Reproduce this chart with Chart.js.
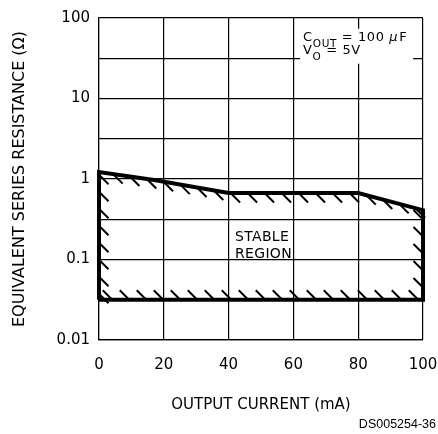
<!DOCTYPE html>
<html>
<head>
<meta charset="utf-8">
<script src="https://cdn.jsdelivr.net/npm/chart.js@4.4.1/dist/chart.umd.min.js"></script>
<style>
	body { margin: 0; background: #fff; }
	canvas { display: block; }
</style>
</head>
<body>
<canvas id="esrChart" width="438" height="434"></canvas>
<script>
/* Data. */
const upperCurrent = [0, 17, 40, 80, 100];          // mA
const upperEsr = [1.22, 0.97, 0.67, 0.67, 0.41];    // ohm
const minEsr = 0.0316;                              // lower edge of stable region

const xTickValues = [0, 20, 40, 60, 80, 100];
const yTickValues = [0.01, 0.1, 1, 10, 100];
const yTickLabels = ['0.01', '0.1', '1', '10', '100'];
const yGridValues = [0.01, 0.0316, 0.1, 0.316, 1, 3.16, 10, 31.6, 100];

const noteLines = [['C', 'OUT', ' = 100 ', 'μ', 'F'], ['V', 'O', ' = 5V', '', '']];
const regionLabel = ['STABLE', 'REGION'];

/* Closed outline of the stable region. */
function buildRegion() {
	const pts = [{ x: upperCurrent[0], y: minEsr }];
	upperCurrent.forEach((c, i) => pts.push({ x: c, y: upperEsr[i] }));
	pts.push({ x: upperCurrent[upperCurrent.length - 1], y: minEsr });
	pts.push({ x: upperCurrent[0], y: minEsr });
	return pts;
}

const black = '#000';
const tickFont = { family: "'DejaVu Sans', sans-serif", size: 15 };

// Hatch marks along the inside of the region outline
const hatchPlugin = {
	id: 'hatch',
	afterDatasetsDraw(chart) {
		const meta = chart.getDatasetMeta(0);
		const p = meta.data.map((e) => ({ x: e.x, y: e.y }));
		let area = 0;
		for (let i = 0; i < p.length - 1; i++) area += p[i].x * p[i + 1].y - p[i + 1].x * p[i].y;
		const sign = area > 0 ? 1 : -1;
		const spacing = 17, len = 9.5;
		const ctx = chart.ctx;
		ctx.save();
		ctx.strokeStyle = black;
		ctx.lineWidth = 2;
		ctx.lineCap = 'butt';
		let next = 6;
		let walked = 0;
		for (let i = 0; i < p.length - 1; i++) {
			const ex = p[i + 1].x - p[i].x, ey = p[i + 1].y - p[i].y;
			const L = Math.hypot(ex, ey);
			if (L === 0) continue;
			const nx = (-ey / L) * sign, ny = (ex / L) * sign;
			const t = nx + ny > 0 ? len : -len;
			while (next <= walked + L) {
				const f = (next - walked) / L;
				const sx = p[i].x + ex * f, sy = p[i].y + ey * f;
				ctx.beginPath();
				ctx.moveTo(sx, sy);
				ctx.lineTo(sx + t, sy + t);
				ctx.stroke();
				next += spacing;
			}
			walked += L;
		}
		ctx.restore();
	},
};

// Condition note, region label and drawing number
const textPlugin = {
	id: 'texts',
	afterDraw(chart) {
		const ctx = chart.ctx;
		const xs = chart.scales.x, ys = chart.scales.y;
		ctx.save();

		// note box, masks grid behind it
		const nx = xs.getPixelForValue(63);
		const ny = ys.getPixelForValue(62);
		ctx.fillStyle = '#fff';
		ctx.fillRect(nx - 3, ny - 6, 113, 35);
		ctx.fillStyle = black;
		ctx.textBaseline = 'alphabetic';
		ctx.textAlign = 'left';
		ctx.letterSpacing = '0.6px';
		const mainFont = "13px 'DejaVu Sans', sans-serif";
		noteLines.forEach((parts, li) => {
			let x = nx;
			const base = ny + 6 + li * 13;
			ctx.font = mainFont;
			ctx.fillText(parts[0], x, base);
			x += ctx.measureText(parts[0]).width;
			ctx.font = "10.5px 'DejaVu Sans', sans-serif";
			ctx.fillText(parts[1], x, base + 6);
			x += ctx.measureText(parts[1]).width;
			ctx.font = mainFont;
			ctx.fillText(parts[2], x, base);
			x += ctx.measureText(parts[2]).width;
			ctx.font = "italic 13px 'DejaVu Sans', sans-serif";
			ctx.fillText(parts[3], x, base);
			x += ctx.measureText(parts[3]).width + 1;
			ctx.font = mainFont;
			ctx.fillText(parts[4], x, base);
		});

		// stable region label
		ctx.letterSpacing = '0.3px';
		ctx.font = "14px 'DejaVu Sans', sans-serif";
		ctx.textBaseline = 'middle';
		const lx = xs.getPixelForValue(42);
		ctx.fillText(regionLabel[0], lx, ys.getPixelForValue(0.187));
		ctx.fillText(regionLabel[1], lx, ys.getPixelForValue(0.115));

		// drawing number
		ctx.letterSpacing = '0px';
		ctx.font = "12.5px 'Liberation Sans', Arial, sans-serif";
		ctx.textAlign = 'right';
		ctx.fillText('DS005254-36', 436, 425);
		ctx.restore();
	},
};

const chartConfig = {
	type: 'scatter',
	data: {
		datasets: [
			{
				data: buildRegion(),
				showLine: true,
				borderColor: black,
				borderWidth: 4,
				borderJoinStyle: 'miter',
				pointRadius: 0,
				tension: 0,
				clip: false,
			},
		],
	},
	options: {
		responsive: false,
		animation: false,
		devicePixelRatio: 1,
		layout: {
			padding: { left: 0, right: 0, top: 16, bottom: 0 },
		},
		scales: {
			x: {
				type: 'linear',
				min: 0,
				max: 100,
				afterFit: (scale) => {
					scale.height = 94;
					scale.paddingLeft = 0;
					scale.paddingRight = 15;
				},
				afterBuildTicks: (scale) => { scale.ticks = xTickValues.map((v) => ({ value: v })); },
				ticks: { color: black, font: tickFont, padding: 16, autoSkip: false, maxRotation: 0 },
				grid: { color: black, lineWidth: 1.2, drawTicks: false },
				border: { color: black, width: 1.2 },
				title: {
					display: true,
					text: 'OUTPUT CURRENT (mA)',
					color: black,
					font: { family: "'DejaVu Sans', sans-serif", size: 15 },
					padding: { top: 0, bottom: 20 },
				},
			},
			y: {
				type: 'logarithmic',
				min: 0.01,
				max: 100,
				afterFit: (scale) => { scale.width = 99; },
				afterBuildTicks: (scale) => { scale.ticks = yGridValues.map((v) => ({ value: v })); },
				ticks: {
					color: black,
					font: tickFont,
					padding: 9,
					autoSkip: false,
					callback: function (value) {
						const i = yTickValues.findIndex((t) => Math.abs(t - value) / t < 1e-6);
						return i >= 0 ? yTickLabels[i] : '';
					},
				},
				grid: { color: black, lineWidth: 1.2, drawTicks: false },
				border: { color: black, width: 1.2 },
				title: {
					display: true,
					text: 'EQUIVALENT SERIES RESISTANCE (Ω)',
					color: black,
					font: { family: "'DejaVu Sans', sans-serif", size: 16 },
					padding: { top: 10, bottom: 0 },
				},
			},
		},
		plugins: {
			legend: { display: false },
			tooltip: { enabled: false },
		},
	},
	plugins: [hatchPlugin, textPlugin],
};

const esrChart = new Chart(document.getElementById('esrChart').getContext('2d'), chartConfig);
</script>
</body>
</html>
